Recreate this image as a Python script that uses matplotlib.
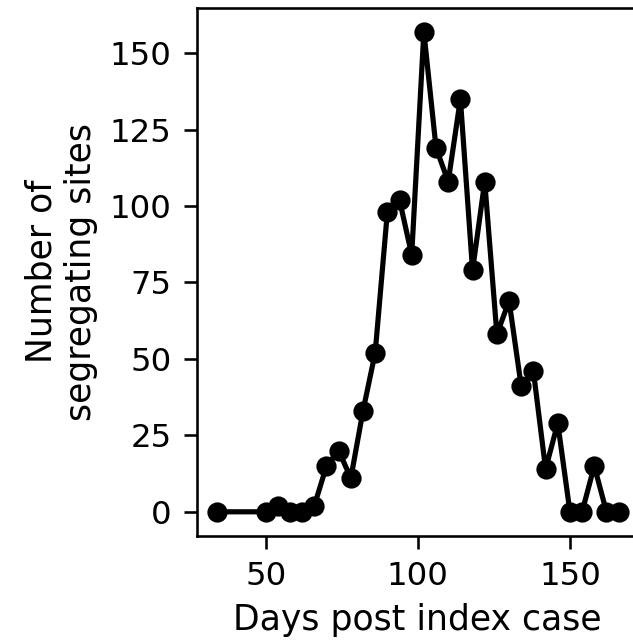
import matplotlib
matplotlib.use("Agg")
import matplotlib.pyplot as plt

# Days post index case and number of segregating sites
days = [34, 50, 54, 58, 62, 66, 70, 74, 78, 82, 86, 90, 94, 98, 102, 106,
        110, 114, 118, 122, 126, 130, 134, 138, 142, 146, 150, 154, 158, 162, 166]
sites = [0, 0, 2, 0, 0, 2, 15, 20, 11, 33, 52, 98, 102, 84, 157, 119,
         108, 135, 79, 108, 58, 69, 41, 46, 14, 29, 0, 0, 15, 0, 0]

DPI = 208
fig = plt.figure(figsize=(633 / DPI, 644 / DPI), dpi=DPI)
ax = fig.add_axes([0.311, 0.168, 0.698, 0.820])

ax.plot(days, sites, color="black", linewidth=1.8, marker="o", markersize=6)

ax.set_xticks([50, 100, 150])
ax.set_yticks([0, 25, 50, 75, 100, 125, 150])
ax.tick_params(labelsize=11.2, length=4.5, width=0.9, pad=4.2)
for s in ax.spines.values():
    s.set_linewidth(0.9)

ax.set_xlabel("Days post index case", fontsize=12)
ax.set_ylabel("Number of\nsegregating sites", fontsize=12)

fig.savefig("out.png", dpi=DPI)
